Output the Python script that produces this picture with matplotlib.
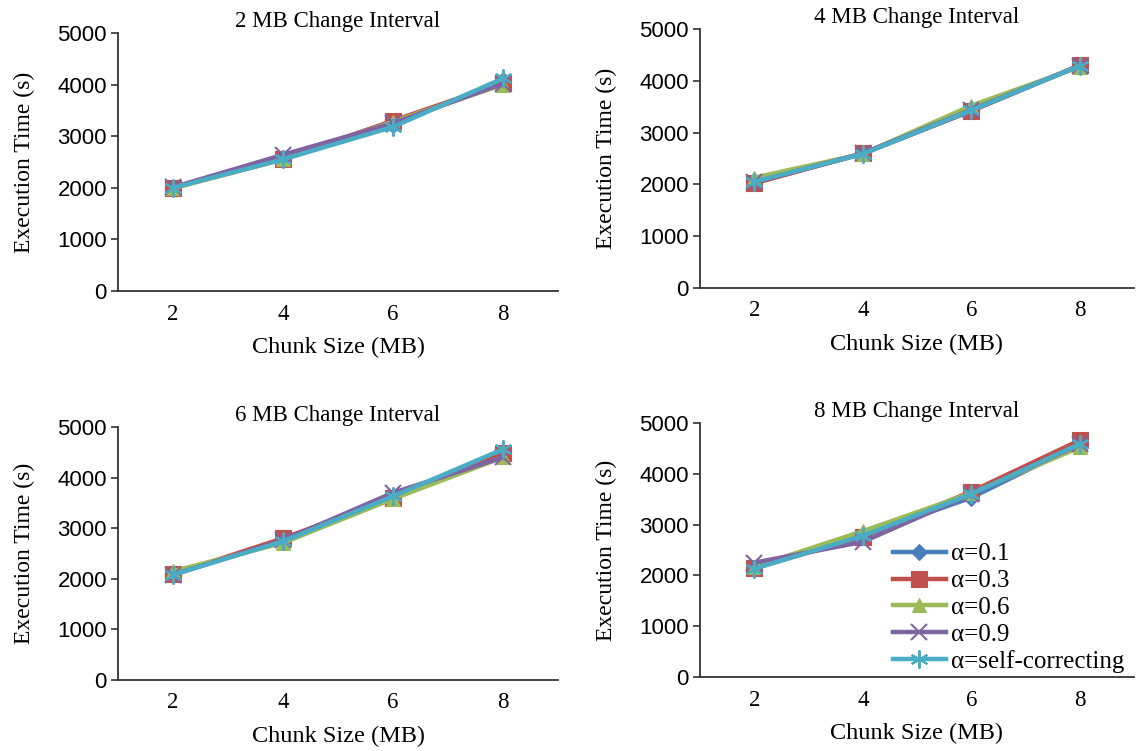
import matplotlib
matplotlib.use("Agg")
import matplotlib.pyplot as plt

chunk_sizes = [2, 4, 6, 8]
series_labels = ["α=0.1", "α=0.3", "α=0.6", "α=0.9", "α=self-correcting"]
titles = ["2 MB Change Interval", "4 MB Change Interval",
          "6 MB Change Interval", "8 MB Change Interval"]

# values per panel, per series (alpha 0.1, 0.3, 0.6, 0.9, self-correcting)
mb2_a01 = [2000, 2560, 3220, 4080]
mb2_a03 = [2000, 2560, 3300, 4030]
mb2_a06 = [1990, 2550, 3280, 4000]
mb2_a09 = [2010, 2640, 3250, 4020]
mb2_self = [2000, 2550, 3180, 4120]

mb4_a01 = [2030, 2590, 3420, 4290]
mb4_a03 = [2020, 2600, 3420, 4300]
mb4_a06 = [2130, 2590, 3520, 4270]
mb4_a09 = [2040, 2600, 3440, 4290]
mb4_self = [2050, 2590, 3430, 4290]

mb6_a01 = [2090, 2760, 3620, 4450]
mb6_a03 = [2090, 2800, 3600, 4480]
mb6_a06 = [2150, 2710, 3580, 4400]
mb6_a09 = [2080, 2760, 3700, 4400]
mb6_self = [2080, 2740, 3630, 4560]

mb8_a01 = [2150, 2780, 3530, 4580]
mb8_a03 = [2140, 2760, 3650, 4660]
mb8_a06 = [2170, 2870, 3620, 4520]
mb8_a09 = [2250, 2660, 3600, 4580]
mb8_self = [2130, 2780, 3600, 4590]

panels = [
    [mb2_a01, mb2_a03, mb2_a06, mb2_a09, mb2_self],
    [mb4_a01, mb4_a03, mb4_a06, mb4_a09, mb4_self],
    [mb6_a01, mb6_a03, mb6_a06, mb6_a09, mb6_self],
    [mb8_a01, mb8_a03, mb8_a06, mb8_a09, mb8_self],
]

colors = ["#4A7EBB", "#C0504D", "#9BBB59", "#8064A2", "#4BACC6"]
markers = ["D", "s", "^", "x", (6, 2, 0)]
msizes = [8, 11, 10, 12, 13]

W, H = 1137, 751
fig = plt.figure(figsize=(W / 100, H / 100), dpi=100)

def rect(l, r, t, b):
    return [l / W, 1 - b / H, (r - l) / W, (b - t) / H]

rects = [rect(118, 558, 33, 291), rect(700, 1134, 29, 288),
         rect(118, 558, 427, 680), rect(700, 1134, 423, 677)]

serif = "Liberation Serif"
sans = "Liberation Sans"

for i, (vals, r) in enumerate(zip(panels, rects)):
    ax = fig.add_axes(r)
    for k, ys in enumerate(vals):
        ax.plot(chunk_sizes, ys, color=colors[k], marker=markers[k],
                markersize=msizes[k], linewidth=3.2,
                markeredgewidth=1.5 if k >= 3 else 0.8,
                markeredgecolor=colors[k], label=series_labels[k])
    ax.set_xlim(1, 9)
    ax.set_ylim(0, 5000)
    ax.set_yticks([0, 1000, 2000, 3000, 4000, 5000])
    ax.set_xticks(chunk_sizes)
    for s in ["top", "right"]:
        ax.spines[s].set_visible(False)
    for s in ["left", "bottom"]:
        ax.spines[s].set_color("#333333")
        ax.spines[s].set_linewidth(1.3)
    ax.tick_params(axis="y", direction="out", length=5, width=1.2,
                   color="#333333", labelsize=16, pad=3)
    ax.tick_params(axis="x", length=0, labelsize=16.5, pad=9)
    for lab in ax.get_yticklabels():
        lab.set_fontfamily(sans)
    for lab in ax.get_xticklabels():
        lab.set_fontfamily(serif)
    ax.set_title(titles[i], fontsize=16.5, fontfamily=serif, pad=4)
    ax.set_xlabel("Chunk Size (MB)", fontsize=17.5, fontfamily=serif, labelpad=9)
    ax.set_ylabel("Execution Time (s)", fontsize=17, fontfamily=serif, labelpad=16)
    if i == 3:
        ax.legend(loc="upper left", bbox_to_anchor=(893 / W, 1 - 543 / H),
                  bbox_transform=fig.transFigure, frameon=False,
                  prop={"family": serif, "size": 18}, handlelength=2.1,
                  handletextpad=0.2, labelspacing=0.17, borderpad=0,
                  borderaxespad=0)

fig.savefig("out.png", dpi=100)
